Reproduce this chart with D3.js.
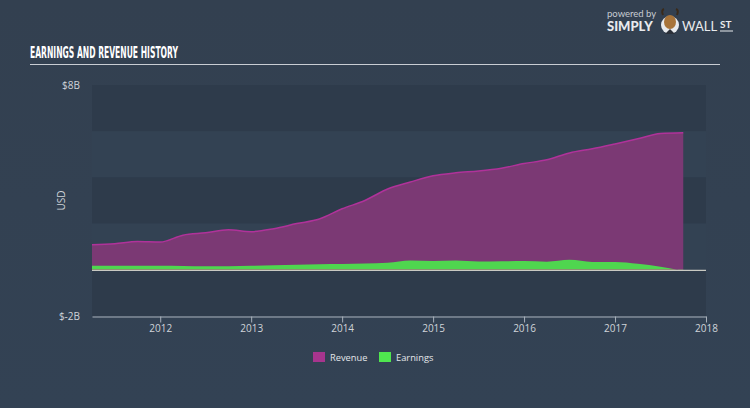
<!DOCTYPE html>
<html><head><meta charset="utf-8">
<script src="https://cdn.jsdelivr.net/npm/d3@7"></script>
<style>
html,body{margin:0;padding:0;background:#344253;}
svg{display:block;}
</style></head>
<body>
<svg id="c" width="750" height="408"></svg>
<script>
const quarters = [2011.25,2011.5,2011.75,2012,2012.25,2012.5,2012.75,2013,2013.25,2013.5,2013.75,2014,2014.25,2014.5,2014.75,2015,2015.25,2015.5,2015.75,2016,2016.25,2016.5,2016.75,2017,2017.25,2017.5,2017.75];
const revenue = [1.08,1.13,1.22,1.2,1.5,1.6,1.73,1.65,1.78,2.0,2.2,2.64,3.0,3.5,3.8,4.07,4.2,4.28,4.4,4.6,4.76,5.06,5.24,5.45,5.67,5.9,5.93];
const earnings = [0.17,0.17,0.17,0.17,0.16,0.15,0.15,0.17,0.2,0.22,0.24,0.25,0.27,0.3,0.4,0.38,0.4,0.36,0.37,0.38,0.35,0.43,0.34,0.34,0.26,0.13,-0.05];
const yearTicks = [2012,2013,2014,2015,2016,2017,2018];
const yTickLabels = ["$8B","$-2B"];
const yTickValues = [8,-2];

const svg = d3.select("#c");
const W=750,H=408;
const x = d3.scaleLinear().domain([2011.25,2018]).range([92,706]);
const y = d3.scaleLinear().domain([-2,8]).range([316,85]);

const defs = svg.append("defs");
const bg = defs.append("linearGradient").attr("id","bg").attr("x1",0).attr("y1",0).attr("x2",0).attr("y2",1);
bg.append("stop").attr("offset","0%").attr("stop-color","#334050");
bg.append("stop").attr("offset","100%").attr("stop-color","#334254");
svg.append("rect").attr("width",W).attr("height",H).attr("fill","url(#bg)");

// title
svg.append("text").attr("x",30).attr("y",58)
  .attr("font-family","'Liberation Sans Narrow','DejaVu Sans Condensed',sans-serif")
  .attr("font-weight","bold").attr("font-size",15).attr("fill","#ffffff")
  .attr("textLength",148).attr("lengthAdjust","spacingAndGlyphs")
  .text("EARNINGS AND REVENUE HISTORY");
svg.append("line").attr("x1",30).attr("x2",720).attr("y1",64.5).attr("y2",64.5)
  .attr("stroke","#c9cdd3").attr("stroke-width",1);

// logo
const logo = svg.append("g");
logo.append("text").attr("x",607).attr("y",17).attr("font-family","Lato,sans-serif").attr("font-size",9.5).attr("fill","#c8ccd2").text("powered by");
logo.append("text").attr("x",607).attr("y",31).attr("font-family","Lato,sans-serif").attr("font-weight","900").attr("font-size",13).attr("fill","#e8eaed").text("SIMPLY");
logo.append("circle").attr("cx",670).attr("cy",25).attr("r",9).attr("fill","#e8eaed");
logo.append("ellipse").attr("cx",670).attr("cy",22).attr("rx",6).attr("ry",7).attr("fill","#a8743a");
logo.append("path").attr("d","M663,15 Q661,10 664,9 M677,15 Q679,10 676,9").attr("stroke","#3a2a1a").attr("stroke-width",2).attr("fill","none");
logo.append("path").attr("d","M665,34 L670,29 L675,34 Z").attr("fill","#2a2f38");
logo.append("text").attr("x",682).attr("y",31).attr("font-family","Lato,sans-serif").attr("font-size",13).attr("fill","#e8eaed").text("WALL");
logo.append("text").attr("x",720).attr("y",28).attr("font-family","Lato,sans-serif").attr("font-weight","bold").attr("font-size",10).attr("fill","#e8eaed").text("ST");
logo.append("line").attr("x1",720).attr("x2",733).attr("y1",31).attr("y2",31).attr("stroke","#e8eaed").attr("stroke-width",1);

// bands
const bands = [[8,6,"#2e3b4b"],[6,4,"#334253"],[4,2,"#2e3b4b"],[2,0,"#334253"],[0,-2,"#2e3b4b"]];
svg.append("g").selectAll("rect").data(bands).join("rect")
  .attr("x",x(2011.25)).attr("width",x(2018)-x(2011.25))
  .attr("y",d=>y(d[0])).attr("height",d=>y(d[1])-y(d[0]))
  .attr("fill",d=>d[2]);

const data = quarters.map((q,i)=>({q, r:revenue[i], e:earnings[i]}));
const curve = d3.curveMonotoneX;

svg.append("path").datum(data)
  .attr("d", d3.area().x(d=>x(d.q)).y0(y(0)).y1(d=>y(d.r)).curve(curve))
  .attr("fill","#7b3974");
svg.append("path").datum(data)
  .attr("d", d3.line().x(d=>x(d.q)).y(d=>y(d.r)).curve(curve))
  .attr("fill","none").attr("stroke","#b0329a").attr("stroke-width",1.5);

const clipPos = defs.append("clipPath").attr("id","pos");
clipPos.append("rect").attr("x",0).attr("y",0).attr("width",W).attr("height",y(0));
const clipNeg = defs.append("clipPath").attr("id","neg");
clipNeg.append("rect").attr("x",0).attr("y",y(0)).attr("width",W).attr("height",H);
const earnArea = d3.area().x(d=>x(d.q)).y0(y(0)).y1(d=>y(d.e)).curve(curve);
svg.append("path").datum(data).attr("d",earnArea).attr("fill","#4fd64f").attr("clip-path","url(#pos)");
svg.append("path").datum(data).attr("d",earnArea).attr("fill","#e8413f").attr("clip-path","url(#neg)");

svg.append("line").attr("x1",x(2011.25)).attr("x2",x(2018)).attr("y1",y(0)+0.5).attr("y2",y(0)+0.5)
  .attr("stroke","#c9c9c2").attr("stroke-width",1.2);

svg.append("g").selectAll("text").data(yTickValues).join("text")
  .attr("x",80).attr("y",d=>y(d)+4).attr("text-anchor","end")
  .attr("font-family","'Open Sans',sans-serif").attr("font-size",10).attr("fill","#d0d4d9")
  .text((d,i)=>yTickLabels[i]);
svg.append("text").attr("transform",`translate(65,${(y(8)+y(-2))/2}) rotate(-90)`)
  .attr("text-anchor","middle").attr("font-family","'Open Sans',sans-serif").attr("font-size",10).attr("fill","#d0d4d9").text("USD");

const xAxis = d3.axisBottom(x).tickValues(yearTicks).tickFormat(d3.format("d")).tickSize(6).tickSizeOuter(0);
const gx = svg.append("g").attr("transform",`translate(0,${y(-2)+0.5})`).call(xAxis);
gx.select(".domain").attr("stroke","#a9b1bb").attr("stroke-width",1.2);
gx.selectAll(".tick line").attr("stroke","#a9b1bb");
gx.selectAll(".tick text").attr("fill","#d0d4d9").attr("font-family","'Open Sans',sans-serif").attr("font-size",10).attr("dy","0.6em");

const legend = [["Revenue","#a7358e"],["Earnings","#4fe64f"]];
const lg = svg.append("g");
const lx=[313,379];
legend.forEach((l,i)=>{
  lg.append("rect").attr("x",lx[i]).attr("y",352).attr("width",12).attr("height",10).attr("fill",l[1]);
  lg.append("text").attr("x",lx[i]+17).attr("y",361).attr("font-family","'Open Sans',sans-serif").attr("font-size",9.3).attr("fill","#e3e6ea").text(l[0]);
});
</script>
</body></html>
